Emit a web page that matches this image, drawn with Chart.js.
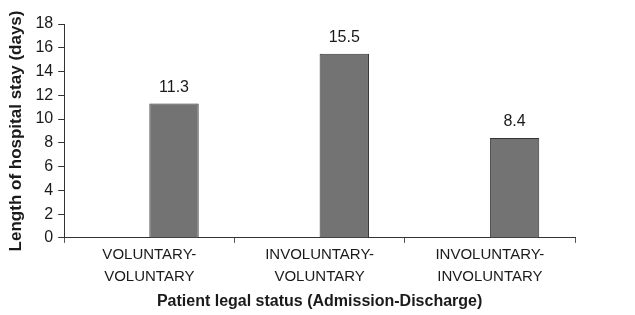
<!DOCTYPE html>
<html>
<head>
<meta charset="utf-8">
<script src="https://cdn.jsdelivr.net/npm/chart.js@4.4.1/dist/chart.umd.min.js"></script>
<style>
    html, body { margin: 0; padding: 0; background: #fff; }
    #wrap { width: 635px; height: 315px; position: relative; }
</style>
</head>
<body>
<div id="wrap"><canvas id="stayChart"></canvas></div>
<script>
const categories = [
    ["VOLUNTARY-", "VOLUNTARY"],
    ["INVOLUNTARY-", "VOLUNTARY"],
    ["INVOLUNTARY-", "INVOLUNTARY"]
];
const stayDays = [11.3, 15.5, 8.4];
const yTicks = [0, 2, 4, 6, 8, 10, 12, 14, 16, 18];

const FONT = "'Liberation Sans', Arial, Helvetica, sans-serif";

// draws the value above each bar
const valueLabels = {
    id: "valueLabels",
    afterDatasetsDraw(chart) {
        const ctx = chart.ctx;
        const meta = chart.getDatasetMeta(1);
        ctx.save();
        ctx.font = "16px " + FONT;
        ctx.fillStyle = "#1a1a1a";
        ctx.textAlign = "center";
        ctx.textBaseline = "alphabetic";
        meta.data.forEach((bar, i) => {
            ctx.fillText(stayDays[i].toFixed(1), bar.x, bar.y - 12);
        });
        ctx.restore();
    }
};

new Chart(document.getElementById("stayChart").getContext("2d"), {
    type: "bar",
    data: {
        labels: categories,
        datasets: [
            {
                // empty slot so the bars sit right of the category centre
                label: "",
                data: categories.map(() => null)
            },
            {
                label: "Length of stay",
                data: stayDays,
                backgroundColor: "#737373",
                borderColor: "#333",
                borderWidth: 1
            }
        ]
    },
    options: {
        responsive: true,
        maintainAspectRatio: false,
        animation: false,
        layout: { padding: { top: 24, right: 60, left: 0, bottom: 4 } },
        datasets: {
            bar: { barPercentage: 1.0, categoryPercentage: 0.58 }
        },
        plugins: {
            legend: { display: false },
            tooltip: { enabled: false }
        },
        scales: {
            x: {
                grid: {
                    offset: true,
                    drawOnChartArea: false,
                    tickLength: 5,
                    color: "#555"
                },
                border: { color: "#333", width: 1 },
                ticks: {
                    color: "#1a1a1a",
                    font: { family: FONT, size: 15, lineHeight: 1.53 },
                    maxRotation: 0,
                    padding: 0
                },
                title: {
                    display: true,
                    text: "Patient legal status (Admission-Discharge)",
                    color: "#1a1a1a",
                    font: { family: FONT, size: 16, weight: "bold" },
                    padding: { top: 3, bottom: 0 }
                }
            },
            y: {
                min: 0,
                max: 18,
                afterBuildTicks(axis) {
                    axis.ticks = yTicks.map(v => ({ value: v }));
                },
                grid: {
                    drawOnChartArea: false,
                    tickLength: 6,
                    color: "#333"
                },
                border: { color: "#333", width: 1 },
                ticks: {
                    color: "#1a1a1a",
                    font: { family: FONT, size: 16 },
                    padding: 5
                },
                title: {
                    display: true,
                    text: "Length of hospital stay (days)",
                    color: "#1a1a1a",
                    font: { family: FONT, size: 17, weight: "bold" },
                    padding: { top: 6, bottom: 4 }
                }
            }
        }
    },
    plugins: [valueLabels]
});
</script>
</body>
</html>
